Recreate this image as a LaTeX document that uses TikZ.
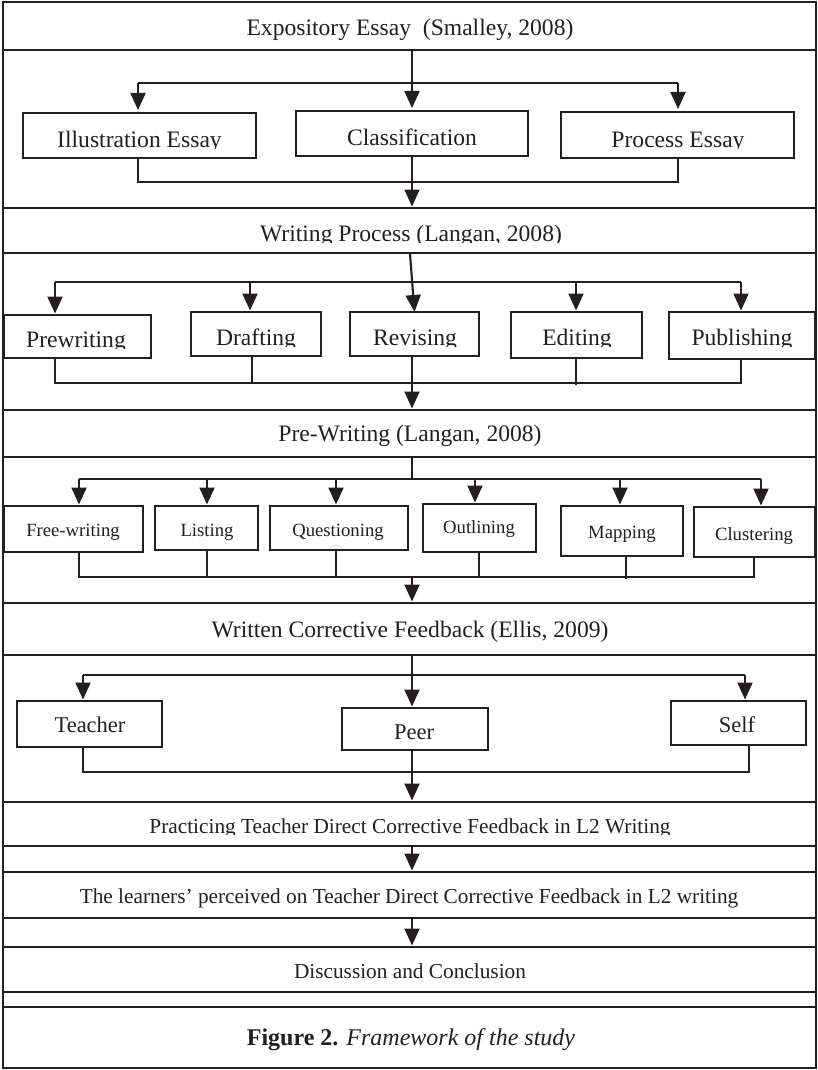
\documentclass[tikz,border=0pt]{standalone}
\usepackage{fontspec}
\setmainfont{Liberation Serif}
\usetikzlibrary{arrows.meta}
\definecolor{ink}{RGB}{35,31,32}

\tikzset{
  box/.style={draw=ink, line width=2.4pt, inner sep=0pt, outer sep=0pt, anchor=north west},
  link/.style={draw=ink, line width=2.1pt},
  arr/.style={link, -{Triangle[length=17pt,width=15pt]}, shorten >=1.5pt},
  lbl/.style={inner sep=0pt, anchor=base, text=ink},
  big/.style={lbl, font=\fontsize{23.6}{28}\selectfont},
  mid/.style={lbl, font=\fontsize{21.3}{25}\selectfont},
  who/.style={lbl, font=\fontsize{22.5}{26}\selectfont},
  small/.style={lbl, font=\fontsize{18.7}{22}\selectfont},
  capt/.style={lbl, font=\fontsize{24}{28}\selectfont},
}

% rectangle node from its top-left and bottom-right corners
\newcommand\boxat[5]{\node[box, minimum width={(#4)-(#2)}, minimum height={(#5)-(#3)}] (#1) at (#2,#3) {};}
% label whose descenders are trimmed just under the baseline
\newcommand\trimlabel[5]{%
  \begin{scope}
    \clip (3,#4-40) rectangle (816,#4+1.3);
    \node[#2] (#1) at (#3,#4) {#5};
  \end{scope}}

\begin{document}
\begin{tikzpicture}[x=1pt,y=-1pt]
\useasboundingbox[fill=white] (0,0) rectangle (818,1070);

% outer frame and full-width bands
\boxat{outer}{3}{2}{816}{1068}
\boxat{title}{3}{2}{816}{50}
\boxat{wp}{3}{208}{816}{253}
\boxat{pw}{3}{410}{816}{457}
\boxat{wcf}{3}{603}{816}{655}
\boxat{prac}{3}{802}{816}{846}
\boxat{lrn}{3}{872}{816}{918}
\boxat{disc}{3}{947}{816}{992}
\boxat{cap}{3}{1007}{816}{1068}

\coordinate (spine) at (412,0);

% ---- essay types
\boxat{ill}{23}{113}{256}{158}
\boxat{cls}{296}{111}{528}{156}
\boxat{proc}{561}{112}{794}{158}

\node[big] (t-title) at (410,36) {Expository Essay~~(Smalley, 2008)};
\trimlabel{t-ill}{big}{139.5}{147}{Illustration Essay}
\node[big] (t-cls) at (412,145) {Classification};
\trimlabel{t-proc}{big}{678}{147}{Process Essay}

\coordinate (b1L) at (138,83);
\coordinate (b1R) at (678,83);
\draw[arr, shorten >=3pt] (spine |- title.south) -- (spine |- cls.north);
\draw[link] (b1L) -- (b1R);
\draw[arr, shorten >=3pt] (b1L) -- (b1L |- ill.north);
\draw[arr, shorten >=3pt] (b1R) -- (b1R |- proc.north);
\coordinate (m1L) at (138,182);
\coordinate (m1R) at (678,182);
\draw[link] (m1L |- ill.south) -- (m1L) -- (m1R) -- (m1R |- proc.south);
\draw[arr] (spine |- cls.south) -- (spine |- wp.north);

% ---- writing process
\trimlabel{t-wp}{big}{411}{241}{Writing Process (Langan, 2008)}

\boxat{prew}{4}{315}{151}{358}
\boxat{draft}{191}{312}{321}{356}
\boxat{rev}{350}{312}{479}{356}
\boxat{edit}{511}{312}{642}{358}
\boxat{pub}{669}{312}{815}{359}

\trimlabel{t-prew}{big}{76}{347}{Prewriting}
\trimlabel{t-draft}{big}{256}{345}{Drafting}
\trimlabel{t-rev}{big}{415}{345}{Revising}
\trimlabel{t-edit}{big}{577}{345}{Editing}
\trimlabel{t-pub}{big}{742}{345}{Publishing}

\coordinate (s2) at (410,254);
\draw[arr, shorten >=0pt] (s2) -- (rev.north);
\coordinate (b2L) at (55,282);
\coordinate (b2D) at (250,282);
\coordinate (b2E) at (576,282);
\coordinate (b2R) at (741,282);
\draw[link] (b2L) -- (b2R);
\draw[arr] (b2L) -- (b2L |- prew.north);
\draw[arr] (b2D) -- (b2D |- draft.north);
\draw[arr] (b2E) -- (b2E |- edit.north);
\draw[arr] (b2R) -- (b2R |- pub.north);
\coordinate (m2L) at (55,383);
\coordinate (m2R) at (741,383);
\draw[link] (m2L |- prew.south) -- (m2L) -- (m2R) -- (m2R |- pub.south);
\draw[link] (252,0 |- draft.south) -- (252,383);
\draw[link] (576,0 |- edit.south) -- (576,385);
\draw[arr] (spine |- rev.south) -- (spine |- pw.north);

% ---- pre-writing techniques
\node[big] (t-pw) at (410,441) {Pre-Writing (Langan, 2008)};

\boxat{fw}{4}{506}{143}{552}
\boxat{lst}{155}{506}{258}{550}
\boxat{qst}{270}{506}{408}{550}
\boxat{outl}{423}{504}{536}{552}
\boxat{map}{561}{506}{683}{556}
\boxat{clu}{694}{507}{815}{557}

\node[small] (t-fw) at (73,536) {Free-writing};
\node[small] (t-lst) at (207,536) {Listing};
\node[small] (t-qst) at (338,536) {Questioning};
\node[small] (t-outl) at (479,533) {Outlining};
\node[small] (t-map) at (622,538) {Mapping};
\node[small] (t-clu) at (754,540) {Clustering};

\coordinate (b3L) at (79,479);
\coordinate (b3R) at (761,479);
\draw[link] (spine |- pw.south) -- (spine |- b3L);
\draw[link] (b3L) -- (b3R);
\draw[arr] (b3L) -- (b3L |- fw.north);
\draw[arr] (207,479) -- (207,0 |- lst.north);
\draw[arr] (336,479) -- (336,0 |- qst.north);
\draw[arr] (475,479) -- (475,0 |- outl.north);
\draw[arr] (620,479) -- (620,0 |- map.north);
\draw[arr] (b3R) -- (b3R |- clu.north);
\coordinate (m3L) at (79,577);
\coordinate (m3R) at (754,577);
\draw[link] (m3L |- fw.south) -- (m3L) -- (m3R) -- (m3R |- clu.south);
\draw[link] (207,0 |- lst.south) -- (207,577);
\draw[link] (336,0 |- qst.south) -- (336,577);
\draw[link] (479,0 |- outl.south) -- (479,577);
\draw[link] (626,0 |- map.south) -- (626,579);
\draw[arr] (spine |- m3L) -- (spine |- wcf.north);

% ---- feedback sources
\node[big] (t-wcf) at (410,637) {Written Corrective Feedback (Ellis, 2009)};

\boxat{teach}{17}{701}{162}{747}
\boxat{peer}{342}{708}{488}{750}
\boxat{self}{671}{701}{806}{745}

\node[who] (t-teach) at (90,732) {Teacher};
\node[who] (t-peer) at (414,739) {Peer};
\node[who] (t-self) at (737,732) {Self};

\coordinate (b4L) at (83,675);
\coordinate (b4R) at (745,675);
\draw[arr] (spine |- wcf.south) -- (spine |- peer.north);
\draw[link] (b4L) -- (b4R);
\draw[arr] (b4L) -- (b4L |- teach.north);
\draw[arr] (b4R) -- (b4R |- self.north);
\coordinate (m4L) at (83,772);
\coordinate (m4R) at (749,772);
\draw[link] (m4L |- teach.south) -- (m4L) -- (m4R) -- (m4R |- self.south);
\draw[arr] (spine |- peer.south) -- (spine |- prac.north);

% ---- study stages
\trimlabel{t-prac}{mid}{410}{833}{Practicing Teacher Direct Corrective Feedback in L2 Writing}
\node[mid] (t-lrn) at (409,903) {The learners’ perceived on Teacher Direct Corrective Feedback in L2 writing};
\node[mid] (t-disc) at (410,978) {Discussion and Conclusion};
\node[capt] (t-cap) at (411,1045) {\textbf{Figure 2.} \textit{Framework of the study}};

\draw[arr] (spine |- prac.south) -- (spine |- lrn.north);
\draw[arr] (spine |- lrn.south) -- (spine |- disc.north);
\end{tikzpicture}
\end{document}
